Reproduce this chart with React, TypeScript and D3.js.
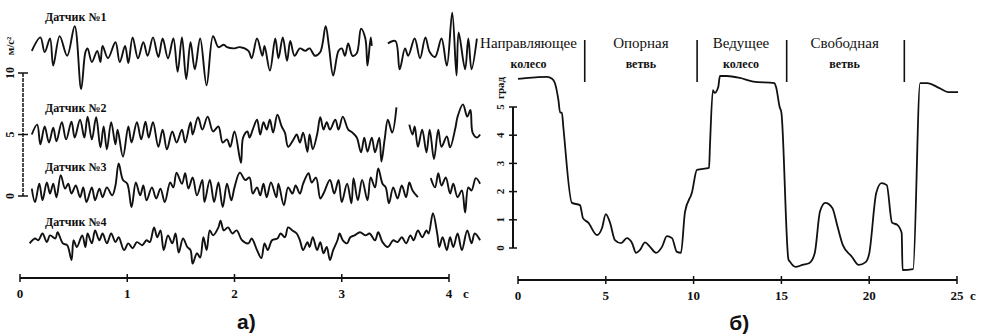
import * as d3 from "d3";

// Panel а) — four accelerometer traces, t in s, deviation in m/s² (NaN = gap in record)
const sensorNames = ["Датчик №1", "Датчик №2", "Датчик №3", "Датчик №4"];
const sensorOffsets = [11.8, 5.0, 0.3, -3.6];
const sensorLabelY = [21, 112, 171, 226];

const sensor1: [number, number][] = [
  [0.11, 0], [0.19, 1.1], [0.23, -0.1], [0.28, 1.0], [0.31, -1.2], [0.37, 1.2], [0.44, -0.4],
  [0.51, 2.0], [0.57, -3.1], [0.61, -0.1], [0.63, 0.2], [0.67, -0.9], [0.72, 0], [0.75, -0.9],
  [0.77, 0.4], [0.82, -0.6], [0.89, 0.7], [0.93, -0.9], [0.98, 0.4], [1.01, -1.0], [1.05, 1.1],
  [1.1, -0.6], [1.15, 0.7], [1.19, -0.4], [1.24, 1.1], [1.29, -0.5], [1.33, 1.0], [1.38, -0.6],
  [1.43, 1.0], [1.47, -1.7], [1.51, 1.1], [1.55, -2.3], [1.59, 0.7], [1.63, -1.5], [1.68, 1.0],
  [1.74, -2.8], [1.8, 1.2], [1.85, 0.3], [1.9, 0.5], [1.93, 0.3], [1.99, 0.2], [2.05, 0.3],
  [2.13, 0], [2.16, -0.6], [2.21, 1.0], [2.26, -0.4], [2.28, 0.4], [2.33, -1.6], [2.38, 1.0],
  [2.41, -0.6], [2.45, 1.1], [2.49, -0.8], [2.52, 0.8], [2.56, -0.4], [2.61, 0.2], [2.66, 0],
  [2.7, 0.2], [2.75, -0.4], [2.8, -0.1], [2.85, 2.0], [2.88, 0.4], [2.92, -2.0], [2.97, 0],
  [3.0, 0.2], [3.03, -0.4], [3.06, 0.6], [3.1, -0.4], [3.14, -0.2], [3.18, 1.8], [3.22, 1.0],
  [3.24, -1.2], [3.27, 1.1], [3.28, 0.4], [3.35, NaN],
  [3.43, 0.6], [3.5, 0.8], [3.54, -1.5], [3.59, 0.2], [3.62, -0.4], [3.68, 1.0], [3.73, -0.6],
  [3.78, 1.1], [3.82, -0.1], [3.87, -0.5], [3.93, 1.0], [3.98, -1.2], [4.03, 3.1], [4.07, -2.0],
  [4.09, 1.5], [4.15, -1.5], [4.18, 1.0], [4.21, -1.5], [4.26, 1.0],
];

const sensor2: [number, number][] = [
  [0.11, 0], [0.16, 0.8], [0.19, -0.8], [0.23, 0.65], [0.27, -0.65], [0.31, 0.55], [0.34, -0.55],
  [0.39, 1.0], [0.43, -0.4], [0.48, 1.05], [0.51, -0.25], [0.56, 1.2], [0.6, -0.25], [0.63, 1.45],
  [0.67, -0.4], [0.71, 1.4], [0.75, -1.05], [0.78, 0.65], [0.81, -1.2], [0.85, 1.0], [0.89, -0.8],
  [0.91, 0.4], [0.96, -1.8], [1.01, 0.65], [1.04, -0.65], [1.09, 1.0], [1.13, -0.4], [1.17, 1.05],
  [1.2, -0.25], [1.24, 1.0], [1.29, -1.0], [1.33, 0.4], [1.37, -1.2], [1.42, 0.25], [1.46, -0.65],
  [1.51, 0.4], [1.54, -0.65], [1.59, 1.0], [1.61, 0], [1.66, 1.4], [1.7, 0.4], [1.75, 1.45],
  [1.8, 0.25], [1.85, 0.65], [1.89, -0.65], [1.93, -0.4], [1.96, -1.0], [2.0, 0.25], [2.06, -2.3],
  [2.08, -0.25], [2.12, 0.25], [2.14, -0.25], [2.17, 0.4], [2.21, 1.2], [2.24, 0], [2.27, 1.0],
  [2.3, 0.4], [2.33, 1.2], [2.36, 0.15], [2.4, 1.6], [2.44, 0.65], [2.47, 0.15], [2.5, -1.0],
  [2.55, -0.4], [2.58, 0], [2.61, -0.65], [2.64, 0.15], [2.68, -1.4], [2.7, 0], [2.73, -1.2],
  [2.77, 0], [2.8, 1.4], [2.83, 0.4], [2.86, 1.0], [2.89, 0.4], [2.94, 1.2], [2.97, 0.4],
  [3.01, 1.45], [3.06, 0.4], [3.1, 0.15], [3.14, -0.25], [3.18, -1.45], [3.21, -0.25], [3.24, -1.4],
  [3.28, -0.25], [3.31, -1.45], [3.35, -0.25], [3.37, -2.2], [3.4, -0.4], [3.43, 1.2], [3.47, 0.15],
  [3.51, 2.2], [3.57, NaN],
  [3.63, 0.8], [3.66, 0], [3.68, 0.65], [3.71, -1.0], [3.75, 0.4], [3.79, -1.45], [3.82, 0.4],
  [3.86, -2.0], [3.9, 0.4], [3.93, -1.0], [3.98, -0.15], [4.01, -1.05], [4.06, 0.55], [4.08, 1.45],
  [4.13, 2.45], [4.17, 1.45], [4.2, 2.0], [4.22, 0.15], [4.26, -0.25], [4.29, 0],
];

const sensor3: [number, number][] = [
  [0.11, 0.3], [0.14, -0.8], [0.18, 0.7], [0.21, -0.65], [0.25, 0.8], [0.28, -0.1], [0.31, 0.7],
  [0.34, -0.4], [0.38, 1.4], [0.42, 0.3], [0.45, 0.7], [0.48, -0.1], [0.52, 0.55], [0.56, -0.4],
  [0.59, 0.4], [0.62, -0.8], [0.67, 0.4], [0.7, -0.65], [0.74, 0.3], [0.77, -0.4], [0.81, 0.4],
  [0.86, -0.25], [0.89, 0.55], [0.92, 2.35], [0.96, 1.0], [1.0, 0.7], [1.04, -1.2], [1.08, 0.8],
  [1.12, -0.25], [1.15, 0.55], [1.18, -0.65], [1.23, 0.4], [1.27, -0.5], [1.31, 0.3], [1.35, -0.8],
  [1.4, 0.8], [1.43, 0.4], [1.46, 1.6], [1.51, 0.7], [1.54, 1.55], [1.57, 0.3], [1.61, 1.2],
  [1.65, -0.25], [1.7, 1.0], [1.72, -0.8], [1.77, 1.0], [1.81, -0.8], [1.85, 0.8], [1.89, -1.2],
  [1.93, 0.7], [1.97, -0.65], [2.0, 0.4], [2.05, 1.6], [2.1, 1.0], [2.14, 1.2], [2.17, -0.1],
  [2.21, 0.4], [2.24, -0.25], [2.27, 0.7], [2.3, -0.4], [2.34, 0.8], [2.39, -0.4], [2.41, 0.7],
  [2.46, -1.05], [2.5, 0.4], [2.54, -0.1], [2.57, 0.55], [2.61, -0.1], [2.64, 0.7], [2.69, 1.55],
  [2.72, 0.8], [2.76, 1.2], [2.8, -0.5], [2.83, -0.1], [2.89, 1.0], [2.93, -0.1], [2.97, 1.0],
  [3.0, -0.8], [3.05, 0.7], [3.09, -0.9], [3.11, 1.15], [3.15, -0.65], [3.19, 1.0], [3.24, -0.65],
  [3.27, 1.2], [3.31, 0.4], [3.34, 1.95], [3.38, 0.7], [3.41, 0.4], [3.44, -0.9], [3.48, 0.4],
  [3.52, -0.5], [3.56, 0.55], [3.6, -0.4], [3.63, 0.8], [3.66, 0.15], [3.71, -0.4], [3.77, NaN],
  [3.83, 1.15], [3.87, 0.4], [3.9, 1.55], [3.93, 0.55], [3.97, 1.2], [4.01, -0.1], [4.04, 0.7],
  [4.08, -0.4], [4.12, 0.15], [4.15, -1.65], [4.18, 0.4], [4.21, 0.15], [4.25, 1.15], [4.29, 0.7],
];

const sensor4: [number, number][] = [
  [0.09, -0.25], [0.14, 0.15], [0.17, 0], [0.21, 0.55], [0.25, -0.15], [0.28, 0.4], [0.33, 0.15],
  [0.35, 0.65], [0.4, -0.25], [0.44, -0.4], [0.48, -1.6], [0.5, 0], [0.53, -0.55], [0.58, 0.4],
  [0.61, -0.55], [0.63, 0.55], [0.67, -0.25], [0.7, 0.8], [0.74, 0], [0.77, 0.55], [0.81, -0.25],
  [0.85, 0.55], [0.89, -0.15], [0.92, 0.25], [0.97, -0.8], [1.01, -0.25], [1.05, -0.65], [1.09, -0.15],
  [1.14, -0.4], [1.18, 0], [1.21, -0.15], [1.25, 1.05], [1.28, 0.25], [1.31, 0.8], [1.34, -0.8],
  [1.38, 0.4], [1.42, -0.25], [1.45, 0.55], [1.48, -1.0], [1.52, 0.15], [1.56, -0.55], [1.59, -0.8],
  [1.61, -1.9], [1.65, -1.05], [1.68, -1.4], [1.71, 0.25], [1.74, -0.8], [1.77, 0.8], [1.8, 0.4],
  [1.85, 1.05], [1.87, 1.6], [1.9, 0.8], [1.94, 1.05], [1.98, 0.55], [2.02, 0.8], [2.07, 0],
  [2.13, -0.25], [2.16, 0.15], [2.21, -0.8], [2.25, -1.45], [2.28, -0.25], [2.31, -0.8], [2.35, 0],
  [2.4, 0.15], [2.43, 0.55], [2.47, 0.25], [2.5, 1.05], [2.54, 0.8], [2.58, 0.55], [2.61, 0],
  [2.64, -0.8], [2.68, -0.15], [2.7, -0.55], [2.73, 0.25], [2.77, -0.8], [2.8, -0.15], [2.83, -1.05],
  [2.86, -0.55], [2.89, -1.6], [2.92, -0.8], [2.96, 0], [2.98, 0.55], [3.01, 0], [3.05, -0.25],
  [3.08, 0.25], [3.12, 0.4], [3.17, 0.65], [3.22, 0.4], [3.26, 0.55], [3.31, 0], [3.34, 0.65],
  [3.38, -0.15], [3.43, -0.55], [3.48, 0], [3.52, -0.15], [3.56, 0.25], [3.6, -0.25], [3.64, 0.4],
  [3.67, 0], [3.71, 0.8], [3.75, 0.25], [3.79, 0.8], [3.81, 0.55], [3.85, 2.2], [3.89, 0.55],
  [3.91, -0.55], [3.94, 0.25], [3.98, -0.8], [4.01, 0.25], [4.04, -0.55], [4.08, 0.55], [4.12, -0.8],
  [4.17, 0.8], [4.21, -0.25], [4.24, 0.55], [4.29, 0],
];

const sensors = [sensor1, sensor2, sensor3, sensor4];
const timeTicksA = [0, 1, 2, 3, 4];
const accelTicks = [0, 5, 10];

// Panel б) — angle, град vs t, s
const angle: [number, number][] = [
  [0, 6.0], [1.0, 6.05], [1.65, 6.07], [1.94, 6.0], [2.1, 5.85], [2.3, 5.25], [2.4, 4.8], [2.5, 4.8],
  [2.58, 4.3], [3.07, 1.6], [3.53, 1.52], [3.7, 1.06], [4.0, 0.9], [4.5, 0.46], [4.78, 0.7],
  [5.0, 1.2], [5.24, 0.9], [5.52, 0.28], [5.87, 0.17], [6.2, 0.35], [6.5, 0.17], [6.72, -0.17],
  [6.95, -0.07], [7.23, 0.2], [7.52, 0.04], [7.86, -0.17], [8.2, 0.04], [8.48, 0.42], [8.77, 0.35],
  [9.05, -0.14], [9.28, -0.17], [9.51, 1.28], [9.91, 1.98], [10.19, 2.77], [10.88, 2.84], [10.93, 3.6],
  [11.1, 5.6], [11.2, 5.5], [11.4, 5.7], [11.5, 6.1], [11.9, 6.1], [12.64, 6.03], [13.4, 5.9],
  [14.6, 5.85], [14.7, 5.7], [14.9, 5.0], [15.0, 4.8], [15.4, -0.4], [15.5, -0.5], [15.8, -0.67],
  [16.2, -0.6], [16.6, -0.53], [16.9, -0.18], [17.2, 1.3], [17.5, 1.6], [17.9, 1.42], [18.2, 0.75],
  [18.5, 0.1], [19.0, -0.3], [19.4, -0.6], [19.8, -0.5], [20.0, -0.2], [20.4, 1.95], [20.7, 2.3],
  [21.0, 2.23], [21.3, 0.9], [21.6, 0.82], [21.85, 0.53], [21.9, -0.78], [22.5, -0.75], [22.9, 5.85],
  [23.3, 5.85], [24.0, 5.67], [24.5, 5.53], [25.06, 5.53],
];
const timeTicksB = [0, 5, 10, 15, 20, 25];
const angleTicks = [0, 1, 2, 3, 4, 5];
const zoneBounds = [3.8, 10.2, 15.3, 22.0];
const zoneCenters = [0.6, 7.0, 12.7, 18.6];
const zoneNames = [
  ["Направляющее", "колесо"],
  ["Опорная", "ветвь"],
  ["Ведущее", "колесо"],
  ["Свободная", "ветвь"],
];

const SERIF = "'Liberation Serif', 'DejaVu Serif', serif";
const INK = "#111";

export default function App() {
  const xA = d3.scaleLinear().domain([0, 4]).range([20, 449]);
  const yA = d3.scaleLinear().domain([0, 10]).range([196, 73]);
  const xB = d3.scaleLinear().domain([0, 25]).range([518, 957]);
  const yB = d3.scaleLinear().domain([0, 5]).range([248, 107]);
  const axisAY = 278;
  const axisBY = 280;

  const traceLine = (off: number) =>
    d3.line<[number, number]>()
      .defined(d => !isNaN(d[1]))
      .x(d => xA(d[0]))
      .y(d => yA(d[1] + off))
      .curve(d3.curveCatmullRom.alpha(0.5));

  const angleLine = d3.line<[number, number]>()
    .x(d => xB(d[0]))
    .y(d => yB(d[1]))
    .curve(d3.curveMonotoneX);

  return (
    <svg width={983} height={334} style={{ position: "absolute", left: 0, top: 0, background: "#fff" }}
      fontFamily={SERIF}>
      {/* panel а */}
      {sensors.map((s, i) => (
        <path key={i} d={traceLine(sensorOffsets[i])(s) || ""} fill="none" stroke={INK} strokeWidth={1.9}
          strokeLinejoin="round" />
      ))}
      {sensorNames.map((n, i) => (
        <text key={n} x={45} y={sensorLabelY[i]} fontSize={12} fontWeight="bold" fill={INK}>{n}</text>
      ))}
      <line x1={23} x2={23} y1={yA(10)} y2={yA(0)} stroke={INK} strokeWidth={1.5} strokeDasharray="4 1" />
      {accelTicks.map(v => (
        <g key={v}>
          <line x1={18} x2={28} y1={yA(v)} y2={yA(v)} stroke={INK} strokeWidth={1.5} />
          <text transform={`translate(14,${yA(v)}) rotate(-90)`} textAnchor="middle" fontSize={12}
            fontWeight="bold" fill={INK}>{v}</text>
        </g>
      ))}
      <text transform="translate(14,46) rotate(-90)" textAnchor="middle" fontSize={11} fontWeight="bold"
        fill={INK}>м/с²</text>
      <line x1={xA(0)} x2={xA(4)} y1={axisAY} y2={axisAY} stroke={INK} strokeWidth={2} />
      {timeTicksA.map(t => (
        <g key={t}>
          <line x1={xA(t)} x2={xA(t)} y1={axisAY - 4} y2={axisAY + 4} stroke={INK} strokeWidth={1.5} />
          <text x={xA(t)} y={axisAY + 20} textAnchor="middle" fontSize={13} fontWeight="bold" fill={INK}>{t}</text>
        </g>
      ))}
      <text x={xA(4) + 17} y={axisAY + 20} textAnchor="middle" fontSize={13} fontWeight="bold" fill={INK}>с</text>
      <text x={xA(2.11)} y={329} textAnchor="middle" fontSize={21} fontWeight="bold"
        fontFamily="'Liberation Sans', Arial, sans-serif" fill={INK}>а)</text>

      {/* panel б */}
      <path d={angleLine(angle) || ""} fill="none" stroke={INK} strokeWidth={1.8} strokeLinejoin="round" />
      {zoneBounds.map(t => (
        <line key={t} x1={xB(t)} x2={xB(t)} y1={40} y2={82} stroke={INK} strokeWidth={1.6} />
      ))}
      {zoneNames.map((lines, i) => (
        <text key={i} x={xB(zoneCenters[i])} textAnchor="middle" fill={INK}>
          <tspan x={xB(zoneCenters[i])} y={48} fontSize={15}>{lines[0]}</tspan>
          <tspan x={xB(zoneCenters[i])} y={68} fontWeight="bold" fontSize={12}>{lines[1]}</tspan>
        </text>
      ))}
      <line x1={513} x2={513} y1={yB(5)} y2={yB(0)} stroke={INK} strokeWidth={2} />
      {angleTicks.map(v => (
        <g key={v}>
          <line x1={509} x2={517} y1={yB(v)} y2={yB(v)} stroke={INK} strokeWidth={1.5} />
          <text transform={`translate(504,${yB(v)}) rotate(-90)`} textAnchor="middle" fontSize={11}
            fontWeight="bold" fill={INK}>{v}</text>
        </g>
      ))}
      <text transform="translate(504,88) rotate(-90)" textAnchor="middle" fontSize={11} fontWeight="bold"
        fill={INK}>град</text>
      <line x1={xB(0)} x2={xB(25)} y1={axisBY} y2={axisBY} stroke={INK} strokeWidth={2} />
      {timeTicksB.map(t => (
        <g key={t}>
          <line x1={xB(t)} x2={xB(t)} y1={axisBY - 4} y2={axisBY + 4} stroke={INK} strokeWidth={1.5} />
          <text x={xB(t)} y={axisBY + 20} textAnchor="middle" fontSize={13} fontWeight="bold" fill={INK}>{t}</text>
        </g>
      ))}
      <text x={xB(25) + 16} y={axisBY + 20} textAnchor="middle" fontSize={13} fontWeight="bold" fill={INK}>с</text>
      <text x={xB(12.6)} y={330} textAnchor="middle" fontSize={21} fontWeight="bold"
        fontFamily="'Liberation Sans', Arial, sans-serif" fill={INK}>б)</text>
    </svg>
  );
}
